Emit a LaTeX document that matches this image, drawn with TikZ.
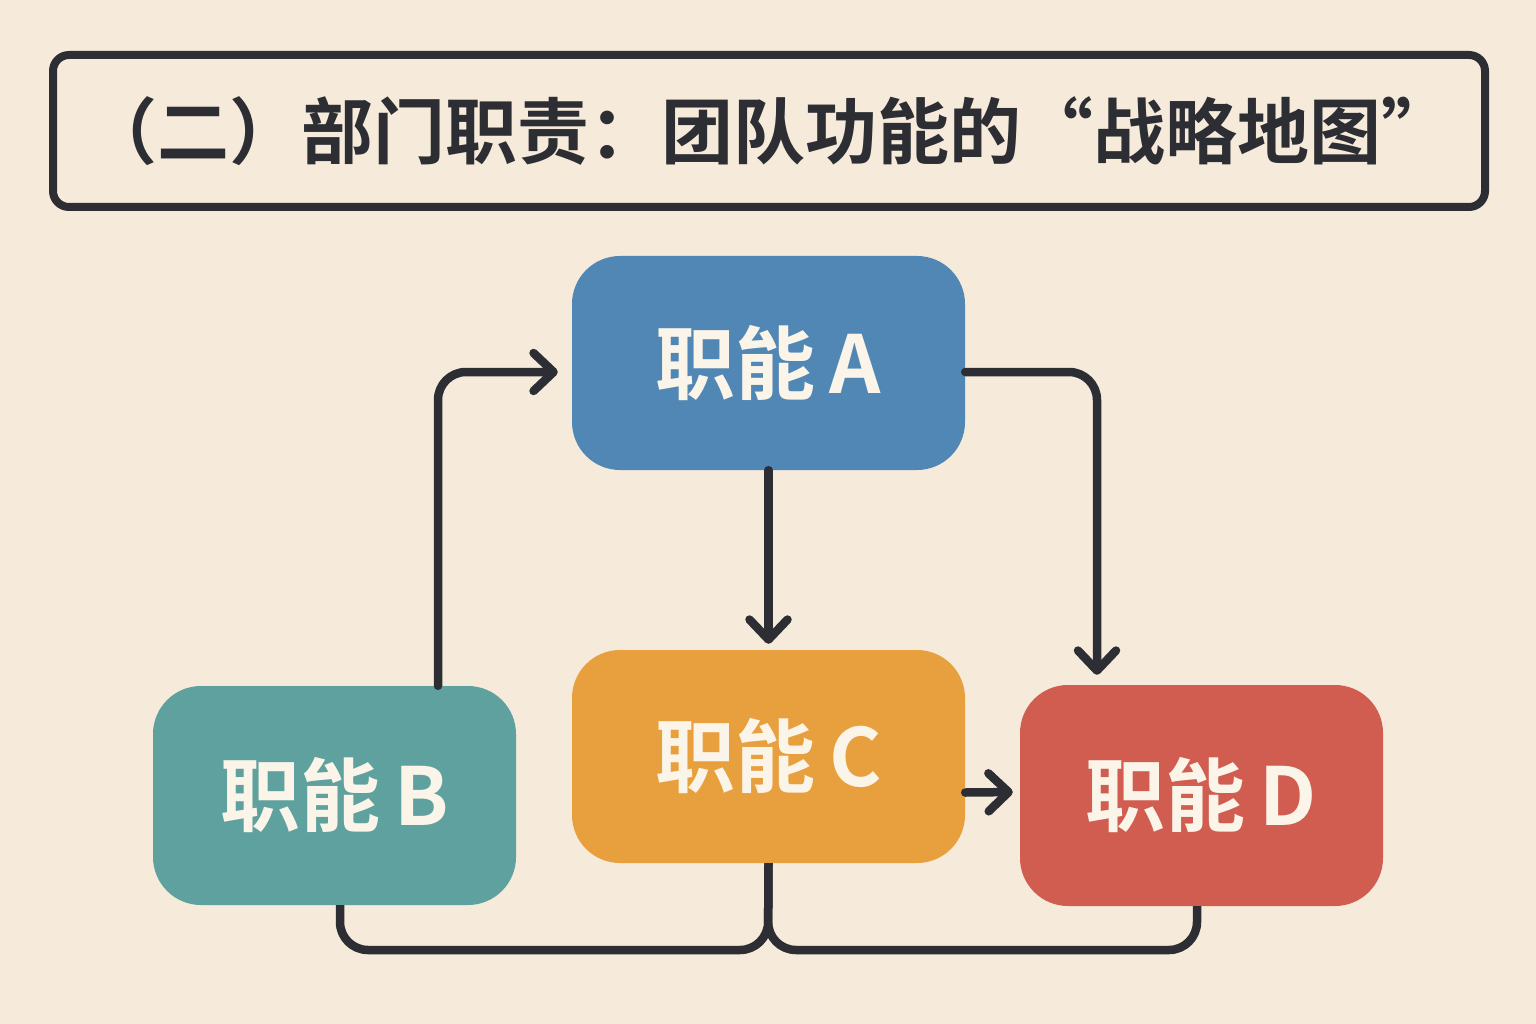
\documentclass[tikz,border=0pt]{standalone}
\usepackage{fontspec}
\setmainfont{Noto Sans CJK SC}
\newfontfamily\cjk{Noto Sans CJK SC}[BoldFont={Noto Sans CJK SC Bold}]
\usetikzlibrary{arrows.meta}
\definecolor{bgc}{HTML}{F6EADB}
\definecolor{ink}{HTML}{2C2E33}
\definecolor{blueA}{HTML}{5187B5}
\definecolor{tealB}{HTML}{5EA19E}
\definecolor{orangeC}{HTML}{E8A03F}
\definecolor{redD}{HTML}{D15C50}
\definecolor{cream}{HTML}{FBF4E8}
\tikzset{
  fbox/.style={rectangle, rounded corners=48pt, inner sep=0pt, text=cream,
    font=\cjk\bfseries\fontsize{80}{82}\selectfont},
  conn/.style={draw=ink, line width=8.5pt, line cap=round, line join=round, rounded corners=28pt},
  tip/.style={-{Straight Barb[length=20pt,width=38pt,line cap=round,line join=round]}},
}
\begin{document}
\begin{tikzpicture}[x=1pt,y=-1pt]
\fill[bgc] (0,0) rectangle (1536,1024);
\useasboundingbox (0,0) rectangle (1536,1024);
\node[draw=ink, line width=8pt, rounded corners=16pt, minimum width=1432pt, minimum height=152pt, inner sep=0pt,
  font=\cjk\bfseries\fontsize{72}{74}\selectfont, text=ink] (title) at (769,131) {（二）部门职责：团队功能的“战略地图”};
\node[fbox, fill=blueA, minimum width=393pt, minimum height=214pt] (A) at (768.5,363) {职能\hspace{14pt}A};
\node[fbox, fill=tealB, minimum width=363pt, minimum height=219pt] (B) at (334.5,795.5) {职能\hspace{14pt}B};
\node[fbox, fill=orangeC, minimum width=393pt, minimum height=213pt] (C) at (768.5,756.5) {职能\hspace{14pt}C};
\node[fbox, fill=redD, minimum width=363pt, minimum height=221pt] (D) at (1201.5,795.5) {职能\hspace{14pt}D};
% B -> A
\draw[conn, tip, shorten >=14pt] ([xshift=103.5pt]B.north) |- ([yshift=-9pt]A.west);
% A -> D
\draw[conn, tip, shorten >=10pt] ([yshift=-9pt]A.east) -| ([xshift=-104.5pt]D.north);
% A -> C
\draw[conn, tip, shorten >=6pt] (A.south) -- (C.north);
% C -> D
\draw[conn, tip, shorten >=7pt] ([yshift=-36pt]C.east) -- ([yshift=3.5pt]D.west);
% bottom brace
\coordinate (mid) at (768,950);
\draw[conn, line cap=butt] ([xshift=5.5pt]B.south) |- (mid) -- (C.south);
\draw[conn, line cap=butt] ([xshift=-4.5pt]D.south) |- (mid) -- (C.south);
\end{tikzpicture}
\end{document}
